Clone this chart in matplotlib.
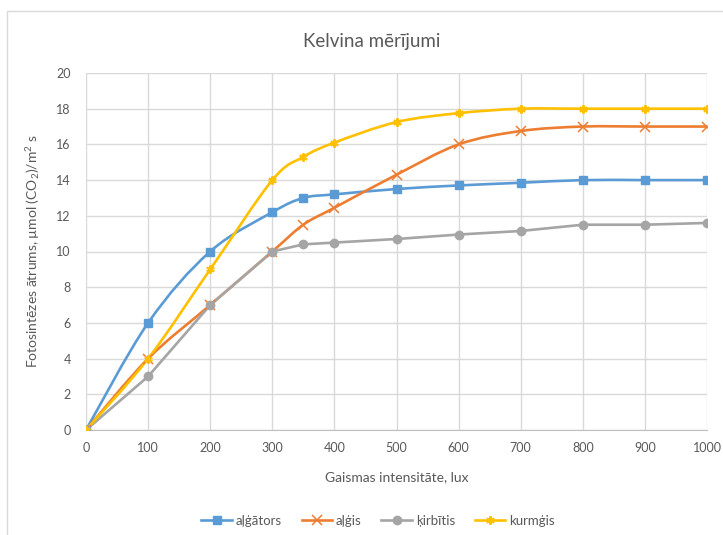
import numpy as np
import matplotlib
matplotlib.use("Agg")
import matplotlib.pyplot as plt
from matplotlib.path import Path
from matplotlib.patches import PathPatch, Rectangle
from matplotlib.lines import Line2D

plt.rcParams['font.family'] = ['Lato', 'DejaVu Sans']
plt.rcParams['mathtext.default'] = 'regular'

lux = [0, 100, 200, 300, 350, 400, 500, 600, 700, 800, 900, 1000]
algators = [0, 6, 10, 12.2, 13.0, 13.2, 13.5, 13.7, 13.85, 14, 14, 14]
algis = [0, 4, 7, 10, 11.5, 12.45, 14.3, 16.0, 16.75, 17, 17, 17]
kirbitis = [0, 3, 7, 10, 10.4, 10.5, 10.7, 10.95, 11.15, 11.5, 11.5, 11.6]
kurmgis = [0, 4, 9, 14, 15.3, 16.1, 17.25, 17.75, 18, 18, 18, 18]

names = ['aļģātors', 'aļģis', 'ķirbītis', 'kurmģis']
colors = ['#5b9bd5', '#ed7d31', '#a5a5a5', '#ffc000']
text_col = '#595959'


def smooth_path(x, y, t=1 / 6):
    # cubic bezier through the points, tangents like a cardinal spline
    pts = np.column_stack([x, y]).astype(float)
    n = len(pts)
    verts = [pts[0]]
    codes = [Path.MOVETO]
    for i in range(n - 1):
        p0 = pts[max(i - 1, 0)]
        p1 = pts[i]
        p2 = pts[i + 1]
        p3 = pts[min(i + 2, n - 1)]
        verts += [p1 + (p2 - p0) * t, p2 - (p3 - p1) * t, p2]
        codes += [Path.CURVE4] * 3
    return Path(verts, codes)


fig = plt.figure(figsize=(7.23, 5.35), dpi=100)
fig.patches.append(Rectangle((7 / 723, -0.05), 1.2, 1 - 11 / 535 + 0.05,
                             transform=fig.transFigure, fill=False,
                             edgecolor='#d9d9d9', lw=1, zorder=0))

ax = fig.add_axes([86 / 723, 1 - 430 / 535, 621 / 723, 357 / 535])

series = [
    (algators, 's', 6, 1, True),
    (algis, 'x', 6.5, 1.1, True),
    (kirbitis, 'o', 6, 1, False),
    (kurmgis, (6, 2, 0), 6, 1.5, True),
]

handles = []
for (vals, mk, ms, mew, smooth), col, name in zip(series, colors, names):
    if smooth:
        ax.add_patch(PathPatch(smooth_path(lux, vals), facecolor='none',
                               edgecolor=col, lw=1.9, zorder=3,
                               capstyle='round', joinstyle='round'))
    else:
        ax.plot(lux, vals, color=col, lw=1.9, zorder=3,
                solid_joinstyle='round')
    ax.plot(lux, vals, ls='none', marker=mk, ms=ms, mew=mew,
            color=col, mec=col, zorder=4)
    handles.append(Line2D([], [], color=col, lw=1.9, marker=mk, ms=ms,
                          mew=mew, mec=col, label=name))

ax.set_xlim(0, 1000)
ax.set_ylim(0, 20)
ax.set_xticks(range(0, 1001, 100))
ax.set_yticks(range(0, 21, 2))
ax.grid(True, color='#d9d9d9', lw=1)
ax.set_axisbelow(True)
for side in ['top', 'right', 'left']:
    ax.spines[side].set_visible(False)
ax.spines['bottom'].set_color('#bfbfbf')
ax.tick_params(length=0, colors=text_col, labelsize=9)
ax.tick_params(axis='y', pad=11)
ax.tick_params(axis='x', pad=9)

ax.set_xlabel('Gaismas intensitāte, lux', color=text_col, fontsize=10)
ax.xaxis.set_label_coords(0.5, -0.115)
ax.set_ylabel('Fotosintēzes ātrums, µmol (CO$_2$)/m$^2$ s',
              color=text_col, fontsize=10)
ax.yaxis.set_label_coords(-0.071, 0.5)

fig.text(372 / 723, 1 - 42 / 535, 'Kelvina mērījumi', ha='center',
         va='center', fontsize=13.5, color=text_col)

fig.legend(handles=handles, loc='center', ncol=4, frameon=False,
           bbox_to_anchor=(378 / 723, 1 - 521 / 535), fontsize=9.5,
           labelcolor=text_col, handlelength=2.3, columnspacing=1.5,
           handletextpad=0.3)

fig.savefig('out.png', dpi=100)
